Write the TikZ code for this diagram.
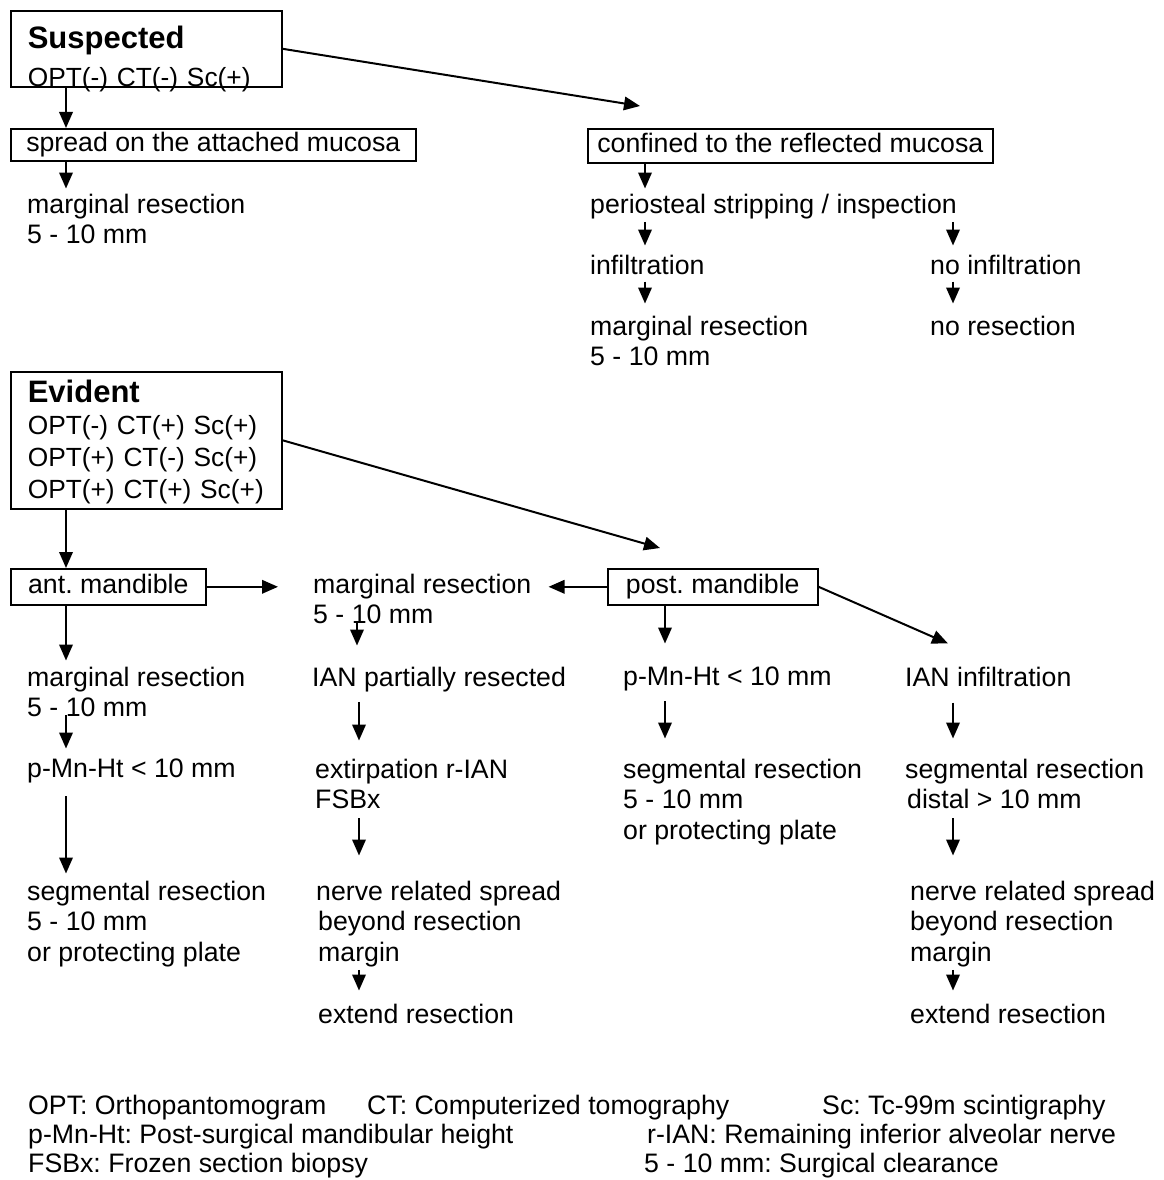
\documentclass[tikz,border=0pt]{standalone}
\usepackage{fontspec}
\setmainfont{Liberation Sans}
\usetikzlibrary{positioning,arrows.meta,calc}

\newcommand{\fs}{\fontsize{26.7}{30.5}\selectfont\frenchspacing}
\newcommand{\bfs}{\fontsize{26.3}{32}\selectfont\frenchspacing}
\newcommand{\head}[1]{{\fontsize{31}{32}\selectfont\bfseries #1}}

\tikzset{
  txt/.style={anchor=north west, align=left, inner sep=0pt, font=\fs},
  box/.style={draw, line width=1.6pt, anchor=north west, inner sep=0pt, font=\fs, text height=19pt, text depth=5.5pt},
  bigbox/.style={draw, line width=1.6pt, anchor=north west, align=left, text width=237pt, inner xsep=17pt, inner ysep=0pt, font=\bfs},
  arr/.style={-{Triangle[length=16pt,width=13.5pt]}, line width=2pt},
}

\begin{document}
\begin{tikzpicture}[x=1pt,y=-1pt]
\useasboundingbox (0,0) rectangle (1163,1180);
% arrow columns
\coordinate (cA) at (66,0);
\coordinate (cM) at (357,0);
\coordinate (cB) at (359,0);
\coordinate (cC) at (645,0);
\coordinate (cD) at (665,0);
\coordinate (cE) at (953,0);
% suspected
\node[bigbox] (susp) at (10,10) {\rule{0pt}{38pt}\head{Suspected}\\[6pt]\raisebox{0pt}[\height][0pt]{OPT(-) CT(-) Sc(+)}};
\node[box, minimum width=405pt, minimum height=32pt] (spread) at (10,128) {spread on the attached mucosa};
\node[box, minimum width=405pt, minimum height=34pt] (conf) at (587,128) {confined to the reflected mucosa};
\node[txt] (marg1) at (27,193.5) {marginal resection\\5 - 10 mm};
\node[txt] (peri) at (590,193.5) {periosteal stripping / inspection};
\node[txt] (infl) at (590,254.5) {infiltration};
\node[txt] (noinfl) at (930,254.5) {no infiltration};
\node[txt] (marg2) at (590,315.5) {marginal resection\\5 - 10 mm};
\node[txt] (nores) at (930,315.5) {no resection};
\draw[arr] (susp.south -| cA) -- (spread.north -| cA);
\draw[arr] (susp.east) -- ($(conf.north -| cC)+(-5,-22)$);
\draw[arr, shorten >=5pt] (spread.south -| cA) -- (marg1.north -| cA);
\draw[arr, shorten >=5pt] (conf.south -| cC) -- (peri.north -| cC);
\draw[arr, shorten <=3pt, shorten >=9pt] (peri.south -| cC) -- (infl.north -| cC);
\draw[arr, shorten <=3pt, shorten >=9pt] (peri.south -| cE) -- (noinfl.north -| cE);
\draw[arr, shorten <=7pt, shorten >=12pt] (infl.south -| cC) -- (marg2.north -| cC);
\draw[arr, shorten <=7pt, shorten >=12pt] (noinfl.south -| cE) -- (nores.north -| cE);
% evident
\node[bigbox] (evid) at (10,371) {\rule{0pt}{31pt}\head{Evident}\\OPT(-) CT(+) Sc(+)\\OPT(+) CT(-) Sc(+)\\OPT(+) CT(+) Sc(+)\rule[-10pt]{0pt}{10pt}};
\node[box, minimum width=195pt, minimum height=36pt] (ant) at (10,568) {ant. mandible};
\node[box, minimum width=210pt, minimum height=36pt] (post) at (607,568) {post. mandible};
\node[txt] (margM) at (313,573.5) {marginal resection\\5 - 10 mm};
\node[txt] (marg3) at (27,666.5) {marginal resection\\5 - 10 mm};
\node[txt] (ianpart) at (312,666.5) {IAN partially resected};
\node[txt] (pmn2) at (623,666.5) {p-Mn-Ht < 10 mm};
\node[txt] (ianinf) at (905,666.5) {IAN infiltration};
\node[txt] (pmn1) at (27,758.5) {p-Mn-Ht < 10 mm};
\node[txt] (extirp) at (315,758.5) {extirpation r-IAN\\FSBx};
\node[txt] (seg2) at (623,758.5) {segmental resection\\5 - 10 mm\\or protecting plate};
\node[txt] (seg3) at (905,758.5) {segmental resection\\\hspace*{2pt}distal > 10 mm};
\node[txt] (seg1) at (27,880.5) {segmental resection\\5 - 10 mm\\or protecting plate};
\node[txt] (nerve1) at (316,880.5) {nerve related spread\\\hspace*{2pt}beyond resection\\\hspace*{2pt}margin};
\node[txt] (nerve2) at (910,880.5) {nerve related spread\\beyond resection\\margin};
\node[txt] (extend1) at (318,1003.5) {extend resection};
\node[txt] (extend2) at (910,1003.5) {extend resection};
\draw[arr] (evid.south -| cA) -- (ant.north -| cA);
\draw[arr] (evid.east) -- ($(post.north -| cD)+(-5,-20)$);
\draw[arr, shorten >=35pt] (ant.east) -- (ant.east -| margM.west);
\draw[arr, shorten >=17pt] (post.west) -- (post.west -| margM.east);
\draw[arr, shorten >=6pt] (ant.south -| cA) -- (marg3.north -| cA);
\draw[arr, shorten >=23pt] (post.south -| cD) -- (pmn2.north -| cD);
\draw[arr] (post.east) -- ($(ianinf.north -| cE)+(-5,-23)$);
\draw[arr, shorten <=-2pt, shorten >=10pt] (marg3.south -| cA) -- (pmn1.north -| cA);
\draw[arr, shorten <=13pt, shorten >=7pt] (pmn1.south -| cA) -- (seg1.north -| cA);
\draw[arr, shorten <=-3pt, shorten >=21pt] (margM.south -| cM) -- (ianpart.north -| cM);
\draw[arr, shorten <=10pt, shorten >=18pt] (ianpart.south -| cB) -- (extirp.north -| cB);
\draw[arr, shorten <=9pt, shorten >=25pt] (extirp.south -| cB) -- (nerve1.north -| cB);
\draw[arr, shorten <=3pt, shorten >=13pt] (nerve1.south -| cB) -- (extend1.north -| cB);
\draw[arr, shorten <=10pt, shorten >=20pt] (pmn2.south -| cD) -- (seg2.north -| cD);
\draw[arr, shorten <=16pt, shorten >=20pt] (ianinf.south -| cE) -- (seg3.north -| cE);
\draw[arr, shorten <=9pt, shorten >=25pt] (seg3.south -| cE) -- (nerve2.north -| cE);
\draw[arr, shorten <=3pt, shorten >=13pt] (nerve2.south -| cE) -- (extend2.north -| cE);
% legend
\node[txt] (legOPT) at (28,1094.5) {OPT: Orthopantomogram};
\node[txt] (legCT) at (367,1094.5) {CT: Computerized tomography};
\node[txt] (legSc) at (822,1094.5) {Sc: Tc-99m scintigraphy};
\node[txt] (legPMN) at (28,1123.5) {p-Mn-Ht: Post-surgical mandibular height};
\node[txt] (legIAN) at (647,1123.5) {r-IAN: Remaining inferior alveolar nerve};
\node[txt] (legFSB) at (28,1152.5) {FSBx: Frozen section biopsy};
\node[txt] (legCLR) at (644,1152.5) {5 - 10 mm: Surgical clearance};
\end{tikzpicture}
\end{document}
